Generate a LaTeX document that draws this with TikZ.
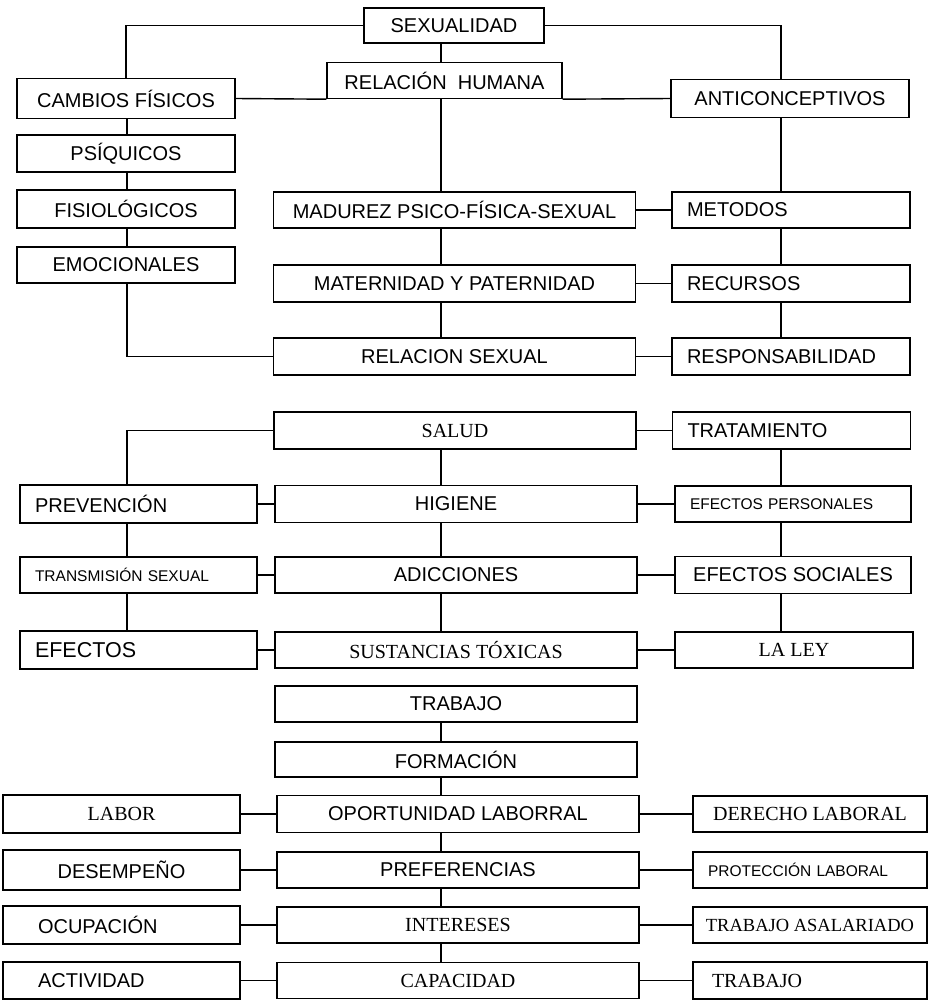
\documentclass[tikz,border=0pt]{standalone}
\usepackage{fontspec}
\newfontfamily\arialfont{Liberation Sans}
\newfontfamily\timesfont{Liberation Serif}
\usepackage{tikz}

\begin{document}
\begin{tikzpicture}[
                x=1pt, y=-1pt,
                box/.style={draw, line width=1.4pt, inner sep=0pt, minimum height=36pt, align=center,
                            font=\fontsize{20}{22}\selectfont\arialfont},
                narrow/.style={minimum width=218pt},
                side/.style={minimum width=237pt},
                wide/.style={minimum width=362pt},
                lbox/.style={box, align=left, inner xsep=15pt, text width=#1},
                smalltext/.style={font=\fontsize{15.5}{18}\selectfont\arialfont},
                seriftext/.style={font=\fontsize{20}{22}\selectfont\timesfont},
                link/.style={line width=1.4pt},
            ]
                \useasboundingbox (0,0) rectangle (929,1001);

                % Column lines
                \coordinate (leftline) at (127,0);
                \coordinate (midline) at (441,0);
                \coordinate (rightline) at (781,0);

                % Sexualidad
                \node[box, minimum width=180pt, minimum height=35pt] (sexualidad) at (454,25.5) {SEXUALIDAD};
                \node[box, minimum width=235pt] (relacion) at (444.5,80.5) {RELACIÓN\ \ HUMANA};
                \node[box, narrow, minimum height=40pt] (cambios) at (126,98.5) {CAMBIOS FÍSICOS};
                \node[box, minimum width=238pt, minimum height=38pt] (anti) at (790,98.5) {ANTICONCEPTIVOS};
                \node[box, narrow, minimum height=37pt] (psiquicos) at (126,153.5) {PSÍQUICOS};
                \node[box, narrow, minimum height=38pt] (fisio) at (126,209) {FISIOLÓGICOS};
                \node[box, narrow] (emoc) at (126,265) {EMOCIONALES};
                \node[box, wide] (madurez) at (454.5,210) {MADUREZ PSICO-FÍSICA-SEXUAL};
                \node[lbox=208pt] (metodos) at (791,210) {METODOS};
                \node[box, wide, minimum height=37pt] (maternidad) at (454.5,283.5) {MATERNIDAD Y PATERNIDAD};
                \node[lbox=208pt, minimum height=37pt] (recursos) at (791,283.5) {RECURSOS};
                \node[box, wide, minimum height=37pt] (relsexual) at (454.5,356.5) {RELACION SEXUAL};
                \node[lbox=208pt, minimum height=37pt] (respons) at (791,356.5) {RESPONSABILIDAD};

                % Salud
                \node[box, wide, minimum height=37pt, seriftext] (salud) at (455,430.5) {SALUD};
                \node[lbox=208pt, minimum height=37pt] (trat) at (791.5,430.5) {TRATAMIENTO};
                \node[lbox=207pt, minimum height=38pt] (prevencion) at (138.5,504) {PREVENCIÓN};
                \node[box, wide, minimum height=37pt] (higiene) at (456,504) {HIGIENE};
                \node[lbox=206pt, smalltext] (efpers) at (793,504) {EFECTOS PERSONALES};
                \node[lbox=207pt, smalltext] (transm) at (138.5,575) {TRANSMISIÓN SEXUAL};
                \node[box, wide] (adicciones) at (456,575) {ADICCIONES};
                \node[box, minimum width=236pt, minimum height=37pt] (efsoc) at (793,575) {EFECTOS SOCIALES};
                \node[lbox=207pt, minimum height=38pt, font=\fontsize{21.5}{24}\selectfont\arialfont] (efectos) at (138.5,650) {EFECTOS};
                \node[box, wide, seriftext] (sustancias) at (456,650) {SUSTANCIAS TÓXICAS};
                \node[box, minimum width=238pt, seriftext] (laley) at (794,650) {LA LEY};

                % Trabajo
                \node[box, wide] (trabajo) at (456,704) {TRABAJO};
                \node[box, wide, minimum height=35pt] (formacion) at (456,759.5) {FORMACIÓN};
                \node[box, wide, minimum height=37pt] (oportunidad) at (458,814) {OPORTUNIDAD LABORRAL};
                \node[box, side, minimum height=38pt, seriftext] (labor) at (121.5,814) {LABOR};
                \node[box, minimum width=234pt, seriftext] (derecho) at (810,814) {DERECHO LABORAL};
                \node[box, wide] (preferencias) at (458,870) {PREFERENCIAS};
                \node[box, side, minimum height=40pt] (desempeno) at (121.5,870) {DESEMPEÑO};
                \node[lbox=204pt, smalltext] (proteccion) at (810,870) {PROTECCIÓN LABORAL};
                \node[box, wide, seriftext] (intereses) at (458,925) {INTERESES};
                \node[lbox=167pt, inner xsep=35pt, minimum height=38pt] (ocupacion) at (121.5,925) {OCUPACIÓN};
                \node[box, minimum width=234pt, font=\fontsize{18.5}{20}\selectfont\timesfont] (asalariado) at (810,925) {TRABAJO ASALARIADO};
                \node[box, wide, seriftext] (capacidad) at (458,980.5) {CAPACIDAD};
                \node[lbox=167pt, inner xsep=35pt, minimum height=37pt] (actividad) at (121.5,980.5) {ACTIVIDAD};
                \node[lbox=196pt, inner xsep=19pt, minimum height=37pt, seriftext] (trabajob) at (810,980.5) {TRABAJO};

                % Connectors from the top
                \draw[link] (sexualidad.west) -| (cambios.north);
                \draw[link] (sexualidad.east) -| (anti.north -| rightline);
                \draw[link] (sexualidad.south -| midline) -- (relacion.north -| midline);
                \draw[link] (cambios.east) -- (relacion.south west);
                \draw[link] (relacion.south east) -- (anti.west);
                \draw[link] (relacion.south -| midline) -- (madurez.north -| midline);
                \draw[link] (emoc.south -| leftline) |- (relsexual.west);
                \draw[link] (salud.west) -| (prevencion.north -| leftline);

                % Columns
                \foreach \a/\b in {cambios/psiquicos, psiquicos/fisio, fisio/emoc, prevencion/transm, transm/efectos}
                    \draw[link] (\a.south -| leftline) -- (\b.north -| leftline);
                \foreach \a/\b in {madurez/maternidad, maternidad/relsexual, salud/higiene, higiene/adicciones,
                                   adicciones/sustancias, trabajo/formacion, formacion/oportunidad,
                                   oportunidad/preferencias, preferencias/intereses, intereses/capacidad}
                    \draw[link] (\a.south -| midline) -- (\b.north -| midline);
                \foreach \a/\b in {anti/metodos, metodos/recursos, recursos/respons, trat/efpers, efpers/efsoc, efsoc/laley}
                    \draw[link] (\a.south -| rightline) -- (\b.north -| rightline);

                % Rows
                \foreach \a/\b in {madurez/metodos, maternidad/recursos, relsexual/respons, salud/trat,
                                   prevencion/higiene, higiene/efpers, transm/adicciones, adicciones/efsoc,
                                   efectos/sustancias, sustancias/laley, labor/oportunidad, oportunidad/derecho,
                                   desempeno/preferencias, preferencias/proteccion, ocupacion/intereses,
                                   intereses/asalariado, actividad/capacidad, capacidad/trabajob}
                    \draw[link] (\a.east) -- (\b.west);
            \end{tikzpicture}
\end{document}
